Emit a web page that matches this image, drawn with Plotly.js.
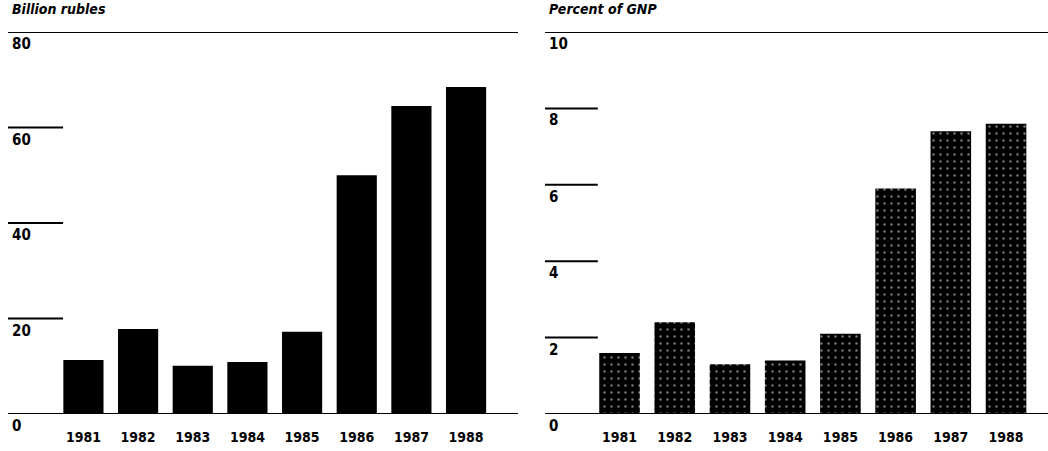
<!DOCTYPE html>
<html>
<head>
<meta charset="utf-8">
<script src="https://cdn.plot.ly/plotly-3.0.1.min.js"></script>
<style>html,body{margin:0;padding:0;background:#fff;}#chart{width:1048px;height:451px;}</style>
</head>
<body>
<div id="chart"></div>
<script>
const years = ['1981','1982','1983','1984','1985','1986','1987','1988'];
const billionRubles = [11.3, 17.8, 10.1, 10.9, 17.2, 50.0, 64.5, 68.5];
const percentGNP = [1.6, 2.4, 1.3, 1.4, 2.1, 5.9, 7.4, 7.6];
const leftTicks = [0, 20, 40, 60, 80];
const rightTicks = [0, 2, 4, 6, 8, 10];
const leftTitle = 'Billion rubles';
const rightTitle = 'Percent of GNP';

const FONT = '"Liberation Sans Narrow", "DejaVu Sans Condensed", "Liberation Sans", sans-serif';
const W = 1048, H = 451;
const yDom = [37 / H, 419 / H];

const traces = [
  {
    type: 'bar', x: years, y: billionRubles, xaxis: 'x', yaxis: 'y',
    marker: {color: '#000', line: {width: 0}}, hoverinfo: 'x+y'
  },
  {
    type: 'bar', x: years, y: percentGNP, xaxis: 'x2', yaxis: 'y2',
    marker: {color: '#000', line: {width: 0},
      pattern: {shape: '.', fgcolor: '#777', bgcolor: '#000', size: 7, solidity: 0.1}},
    hoverinfo: 'x+y'
  }
];

const shapes = [];
const annotations = [];
function addAxisDecor(xr, yr, ticks, maxV, shortLen) {
  ticks.forEach(v => {
    const full = (v === 0 || v === maxV);
    shapes.push({type: 'line', xref: xr + ' domain', yref: yr, x0: 0, x1: full ? 1 : shortLen,
      y0: v, y1: v, line: {color: '#000', width: 2}});
    annotations.push({xref: xr + ' domain', yref: yr, x: 0, y: v, xanchor: 'left', yanchor: 'top',
      xshift: 2, yshift: -1, showarrow: false, text: String(v),
      font: {family: FONT, size: 15, color: '#000', weight: 'bold'}});
  });
}
addAxisDecor('x', 'y', leftTicks, 80, 0.108);
addAxisDecor('x2', 'y2', rightTicks, 10, 0.105);

annotations.push({xref: 'paper', yref: 'paper', x: 10 / W, y: 1 - 9 / H, xanchor: 'left', yanchor: 'middle',
  showarrow: false, text: '<b><i>' + leftTitle + '</i></b>', font: {family: FONT, size: 14, color: '#000'}});
annotations.push({xref: 'paper', yref: 'paper', x: 547 / W, y: 1 - 9 / H, xanchor: 'left', yanchor: 'middle',
  showarrow: false, text: '<b><i>' + rightTitle + '</i></b>', font: {family: FONT, size: 14, color: '#000'}});

const xCommon = {type: 'category', showgrid: false, zeroline: false, showline: false, ticks: '',
  ticklabelstandoff: 13,
  tickfont: {family: FONT, size: 14, color: '#000', weight: 'bold'}, fixedrange: true};
const yCommon = {showgrid: false, zeroline: false, showline: false, showticklabels: false, ticks: '', fixedrange: true};

const layout = {
  width: W, height: H,
  margin: {l: 0, r: 0, t: 0, b: 0},
  paper_bgcolor: '#fff', plot_bgcolor: '#fff',
  showlegend: false, bargap: 0.265,
  xaxis: Object.assign({}, xCommon, {domain: [8 / W, 518 / W], range: [-1.38, 7.95], anchor: 'y'}),
  yaxis: Object.assign({}, yCommon, {domain: yDom, range: [0, 80], anchor: 'x'}),
  xaxis2: Object.assign({}, xCommon, {domain: [545 / W, 1], range: [-1.35, 7.76], anchor: 'y2'}),
  yaxis2: Object.assign({}, yCommon, {domain: yDom, range: [0, 10], anchor: 'x2'}),
  shapes: shapes,
  annotations: annotations
};

Plotly.newPlot('chart', traces, layout, {displayModeBar: false, staticPlot: true});
</script>
</body>
</html>
